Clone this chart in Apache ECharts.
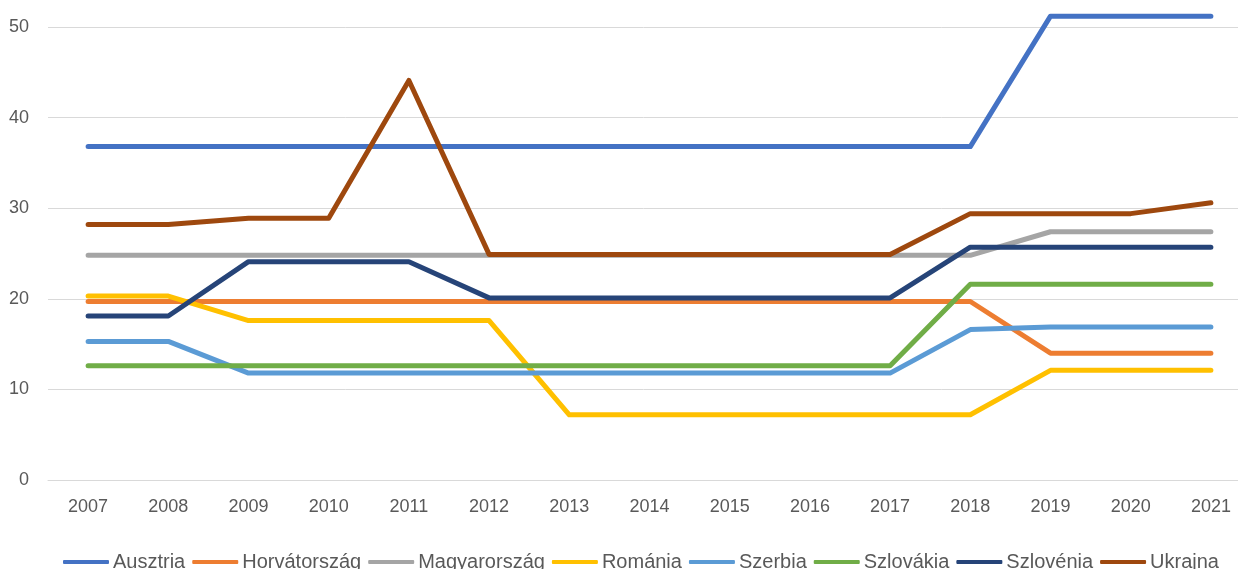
<!DOCTYPE html>
<html>
<head>
<meta charset="utf-8">
<script src="https://cdn.jsdelivr.net/npm/echarts@6/dist/echarts.min.js"></script>
<style>
  html, body { margin: 0; padding: 0; background: #fff; }
  #chart { width: 1238px; height: 569px; }
</style>
</head>
<body>
<div id="chart"></div>
<script>
const years = ['2007', '2008', '2009', '2010', '2011', '2012', '2013', '2014', '2015', '2016', '2017', '2018', '2019', '2020', '2021'];

const ausztria = [36.8, 36.8, 36.8, 36.8, 36.8, 36.8, 36.8, 36.8, 36.8, 36.8, 36.8, 36.8, 51.2, 51.2, 51.2];
const horvatorszag = [19.7, 19.7, 19.7, 19.7, 19.7, 19.7, 19.7, 19.7, 19.7, 19.7, 19.7, 19.7, 14.0, 14.0, 14.0];
const magyarorszag = [24.8, 24.8, 24.8, 24.8, 24.8, 24.8, 24.8, 24.8, 24.8, 24.8, 24.8, 24.8, 27.4, 27.4, 27.4];
const romania = [20.3, 20.3, 17.6, 17.6, 17.6, 17.6, 7.2, 7.2, 7.2, 7.2, 7.2, 7.2, 12.1, 12.1, 12.1];
const szerbia = [15.3, 15.3, 11.8, 11.8, 11.8, 11.8, 11.8, 11.8, 11.8, 11.8, 11.8, 16.6, 16.9, 16.9, 16.9];
const szlovakia = [12.6, 12.6, 12.6, 12.6, 12.6, 12.6, 12.6, 12.6, 12.6, 12.6, 12.6, 21.6, 21.6, 21.6, 21.6];
const szlovenia = [18.1, 18.1, 24.1, 24.1, 24.1, 20.1, 20.1, 20.1, 20.1, 20.1, 20.1, 25.7, 25.7, 25.7, 25.7];
const ukrajna = [28.2, 28.2, 28.9, 28.9, 44.1, 24.9, 24.9, 24.9, 24.9, 24.9, 24.9, 29.4, 29.4, 29.4, 30.6];

const names = ['Ausztria', 'Horvátország', 'Magyarország', 'Románia', 'Szerbia', 'Szlovákia', 'Szlovénia', 'Ukrajna'];
const colors = ['#4472C4', '#ED7D31', '#A5A5A5', '#FFC000', '#5B9BD5', '#70AD47', '#264478', '#9E480E'];
const values = [ausztria, horvatorszag, magyarorszag, romania, szerbia, szlovakia, szlovenia, ukrajna];

const chart = echarts.init(document.getElementById('chart'));

const option = {
  animation: false,
  color: colors,
  textStyle: { fontFamily: 'Liberation Sans, Arial, sans-serif' },
  // plot runs past the right edge, as in the cropped original
  grid: { left: 48, width: 1203, top: 27, height: 453, outerBoundsMode: 'none' },
  legend: {
    data: names,
    left: 58,
    top: 547,
    icon: 'roundRect',
    itemWidth: 46,
    itemHeight: 4,
    itemGap: 7,
    width: 1200,
    textStyle: { fontSize: 20, color: '#595959', padding: [0, 0, 0, -1] }
  },
  xAxis: {
    type: 'category',
    data: years,
    boundaryGap: true,
    axisLine: { lineStyle: { color: '#D9D9D9', width: 1 } },
    axisTick: { show: false },
    axisLabel: { fontSize: 18, color: '#595959', margin: 18 }
  },
  yAxis: {
    type: 'value',
    min: 0,
    max: 50,
    interval: 10,
    axisLine: { show: false },
    axisTick: { show: false },
    splitLine: { lineStyle: { color: '#D9D9D9', width: 1 } },
    axisLabel: { fontSize: 18, color: '#595959', margin: 19 }
  },
  series: names.map((name, i) => ({
    name: name,
    type: 'line',
    data: values[i],
    symbol: 'none',
    clip: false,
    lineStyle: { width: 5, color: colors[i], cap: 'round', join: 'round' },
    itemStyle: { color: colors[i] }
  }))
};

chart.setOption(option);
</script>
</body>
</html>
